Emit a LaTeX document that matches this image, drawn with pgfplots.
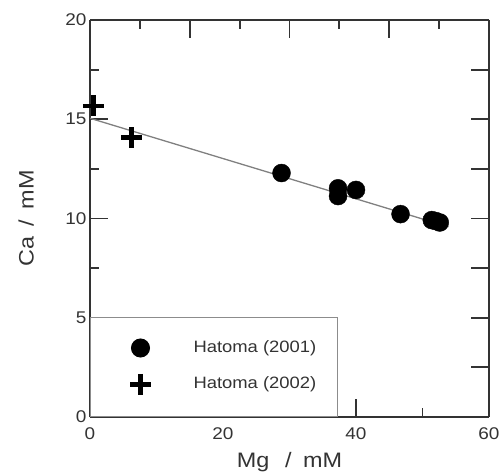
\documentclass[border=0pt]{standalone}
\usepackage{fontspec}
\setmainfont[FakeStretch=1.12]{Liberation Sans}
\usepackage{pgfplots}
\pgfplotsset{compat=1.18}
\definecolor{axc}{HTML}{333333}
\definecolor{fitc}{HTML}{808080}
\begin{document}
\begin{tikzpicture}
\useasboundingbox (0bp,0bp) rectangle (504bp,473bp);
\pgfplotsset{
  myframe/.style={
    at={(90bp,56bp)}, anchor=south west,
    width=399bp, height=397bp, scale only axis,
    xmin=0, xmax=60, ymin=0, ymax=20,
    tick align=inside,
    major tick length=18bp, minor tick length=9bp,
    axis line style={line width=2bp, axc},
    every tick/.style={line width=1.8bp, axc},
    every minor tick/.style={line width=1.8bp, axc},
    tick label style={font=\fontsize{17}{20}\selectfont, text=axc},
    /pgf/number format/assume math mode=true,
  }
}
\begin{axis}[myframe,
  axis x line*=top, axis y line*=right,
  xtick={15,30,45}, minor xtick={7.5,22.5,37.5,52.5},
  ytick={2.5,5,7.5,10,12.5,15,17.5},
  xticklabels={}, yticklabels={},
]
\end{axis}
\begin{axis}[myframe,
  axis x line*=bottom, axis y line*=left,
  xtick={0,20,40,60}, minor xtick={10,30,50},
  ytick={0,5,10,15,20}, minor ytick={2.5,7.5,12.5,17.5},
  xticklabel style={yshift=-7bp},
  xlabel={Mg\hspace{0.75em}/\hspace{0.55em}mM},
  ylabel={Ca\hspace{0.5em}/\hspace{0.5em}mM},
  label style={font=\fontsize{21}{24}\selectfont, text=axc},
  xlabel style={at={(axis description cs:0.5,-0.128)}, anchor=base},
  ylabel style={at={(axis description cs:-0.16,0.5)}, anchor=center, rotate=0},
  legend style={at={(axis cs:0,0)}, anchor=south west,
    draw=black!45, line width=1bp, fill=white,
    font=\fontsize{16.5}{19}\selectfont,
    inner xsep=21bp, inner ysep=21.5bp, row sep=17bp, column sep=0bp,
    nodes={inner sep=0pt, text height=12bp, text depth=4bp, text=axc}},
  legend cell align=left,
  legend image code/.code={%
    \path[draw=none, fill=none] (0bp,-8bp) rectangle (82bp,8bp);
    \draw[mark repeat=2,mark phase=2,#1] plot coordinates {(21bp,0bp) (29bp,0bp) (37bp,0bp)};},
]
\addplot[only marks, mark=*, mark size=9bp, black, mark options={fill=black, draw=black}] coordinates {
  (28.8,12.29) (37.3,11.52) (37.3,11.13) (40.0,11.44) (46.7,10.22)
  (51.4,9.92) (52.0,9.87) (52.6,9.80)
};
\addlegendentry{Hatoma (2001)}
\addplot[only marks, mark=+, mark size=10.5bp, black, mark options={line width=4.8bp}] coordinates {
  (0.5,15.67) (6.3,14.07)
};
\addlegendentry{Hatoma (2002)}
\addplot[fitc, line width=1.3bp, forget plot] coordinates {(0,15.05) (53.9,9.58)};
\end{axis}
\end{tikzpicture}
\end{document}
